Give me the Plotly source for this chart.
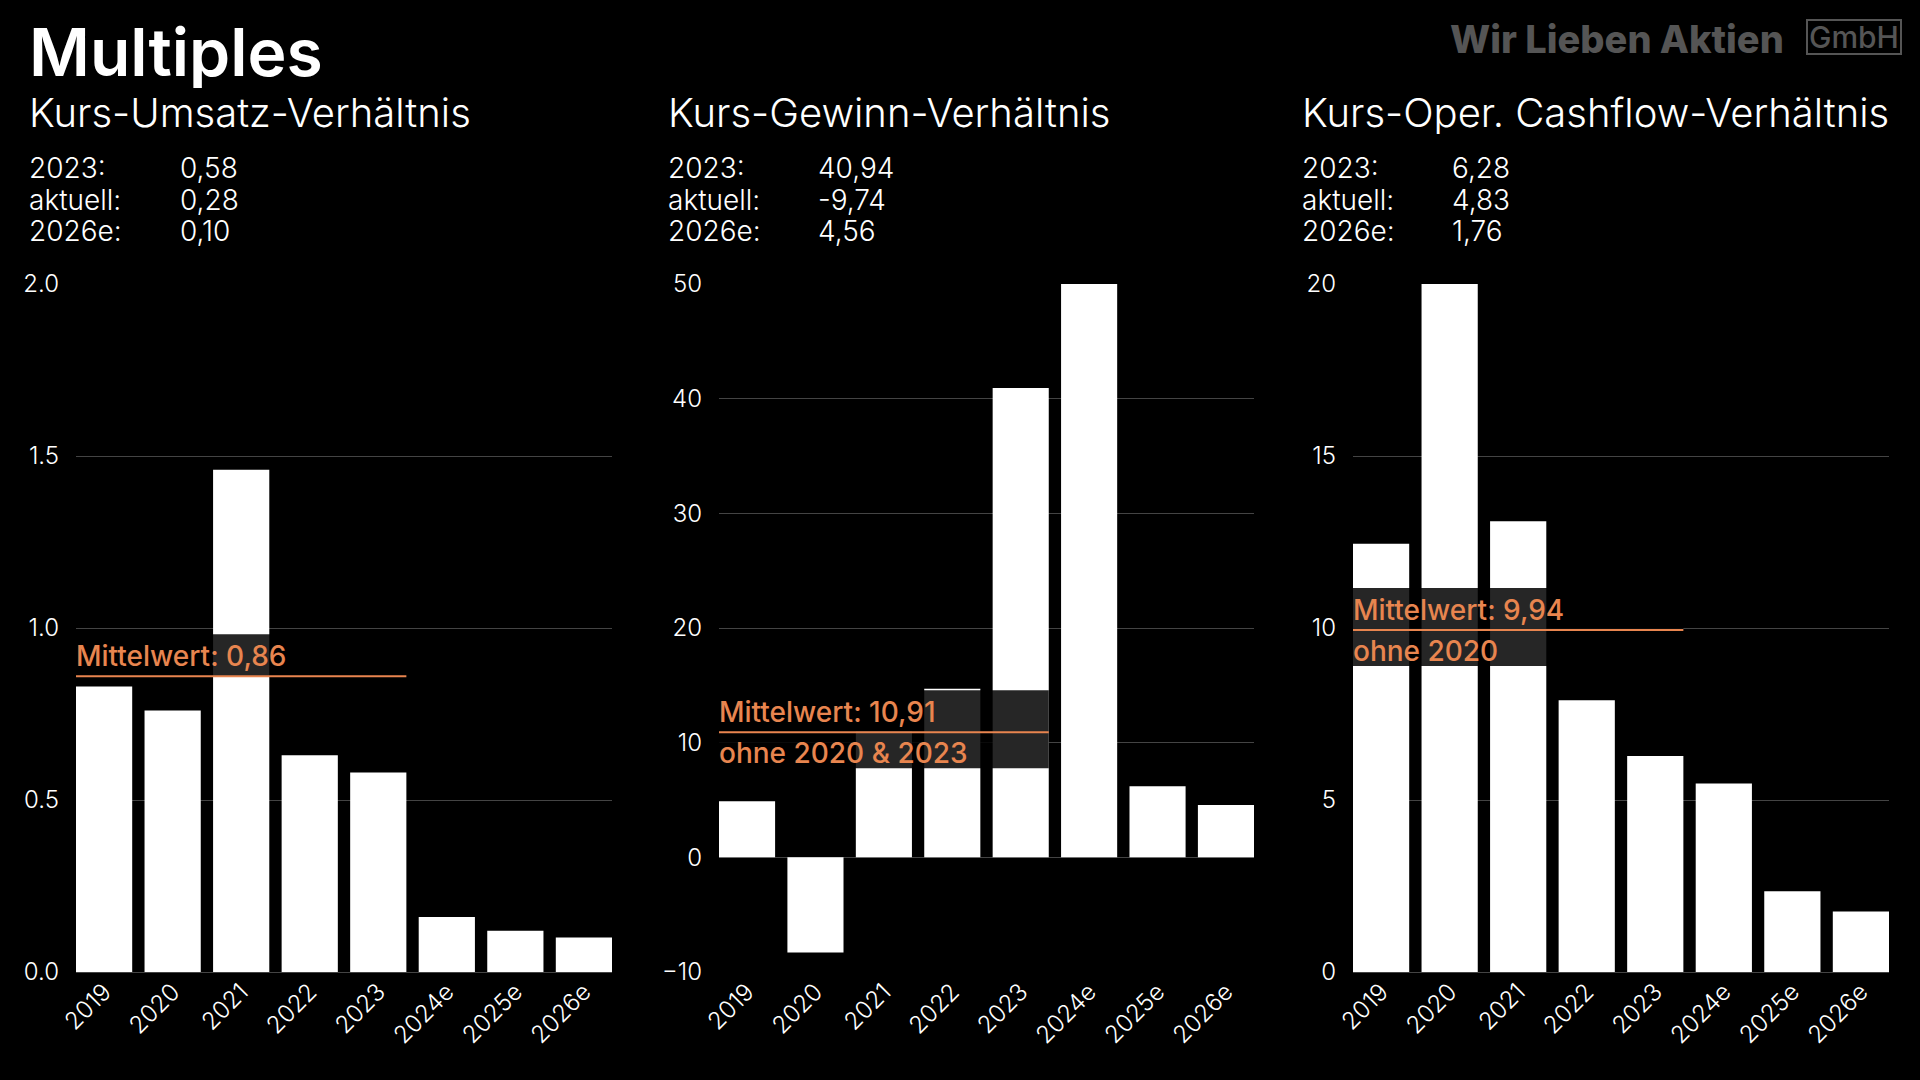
import plotly.graph_objects as go

FONT = "Inter"
ORANGE = "#E8854F"
GRID = "#444444"

years = ["2019", "2020", "2021", "2022", "2023", "2024e", "2025e", "2026e"]

kuv = [0.83, 0.76, 1.46, 0.63, 0.58, 0.16, 0.12, 0.10]
kgv = [4.9, -8.3, 11.0, 14.7, 40.94, 50.0, 6.2, 4.56]
kcv = [12.45, 20.0, 13.1, 7.9, 6.28, 5.48, 2.35, 1.76]

titles = ["Kurs-Umsatz-Verhältnis", "Kurs-Gewinn-Verhältnis", "Kurs-Oper. Cashflow-Verhältnis"]
stat_labels = ["2023:", "aktuell:", "2026e:"]
stat_values = [["0,58", "0,28", "0,10"], ["40,94", "-9,74", "4,56"], ["6,28", "4,83", "1,76"]]

means = [0.86, 10.91, 9.94]
mean_labels = ["Mittelwert: 0,86", "Mittelwert: 10,91", "Mittelwert: 9,94"]
mean_notes = [None, "ohne 2020 & 2023", "ohne 2020"]

y_ranges = [[0, 2], [-10, 50], [0, 20]]
y_dticks = [0.5, 10, 5]
y_formats = [".1f", "d", "d"]

W, H = 1920, 1080
x_domains = [[76 / W, 612 / W], [719 / W, 1254 / W], [1353 / W, 1889 / W]]
y_domain = [1 - 972 / H, 1 - 284 / H]
text_left = [27, 666, 1300]
value_left = [178, 816, 1450]

fig = go.Figure()
annotations = []
shapes = []

for i, vals in enumerate([kuv, kgv, kcv]):
    n = "" if i == 0 else str(i + 1)
    fig.add_trace(go.Bar(x=years, y=vals, marker=dict(color="white", line=dict(width=0)),
                         xaxis="x" + n, yaxis="y" + n, showlegend=False, hoverinfo="x+y"))
    fig.update_layout(**{
        "xaxis" + n: dict(domain=x_domains[i], anchor="y" + n, range=[-0.41, 7.41],
                          tickangle=-45, tickfont=dict(size=24, color="white", weight=300),
                          showgrid=False, zeroline=False, showline=False, ticks="",
                          automargin=False, fixedrange=True),
        "yaxis" + n: dict(domain=y_domain, anchor="x" + n, range=y_ranges[i], dtick=y_dticks[i],
                          tickformat=y_formats[i], tickfont=dict(size=24, color="white", weight=300),
                          gridcolor=GRID, gridwidth=1, zeroline=True, zerolinecolor=GRID,
                          zerolinewidth=1, showline=False, ticks="", ticklabelstandoff=16,
                          automargin=False, fixedrange=True),
    })
    xr, yr = "x" + n, "y" + n
    above = 42
    below = 36 if mean_notes[i] else 0
    shapes.append(dict(type="rect", xref=xr, yref=yr, x0=-0.41, x1=4.41,
                       ysizemode="pixel", yanchor=means[i], y0=-below, y1=above,
                       fillcolor="rgba(0,0,0,0.85)", line=dict(width=0), layer="above"))
    shapes.append(dict(type="line", xref=xr, yref=yr, x0=-0.41, x1=4.41, y0=means[i], y1=means[i],
                       line=dict(color=ORANGE, width=2), layer="above"))
    annotations.append(dict(xref=xr, yref=yr, x=-0.41, y=means[i], xanchor="left", yanchor="bottom",
                            text=mean_labels[i], showarrow=False, yshift=1, xshift=-2,
                            font=dict(family=FONT, size=28, color=ORANGE, weight=500)))
    if mean_notes[i]:
        annotations.append(dict(xref=xr, yref=yr, x=-0.41, y=means[i], xanchor="left", yanchor="top",
                                text=mean_notes[i], showarrow=False, yshift=-2, xshift=-2,
                                font=dict(family=FONT, size=28, color=ORANGE, weight=500)))
    # panel title and stats
    annotations.append(dict(xref="paper", yref="paper", x=text_left[i] / W, y=1 - 112 / H,
                            xanchor="left", yanchor="middle", text=titles[i], showarrow=False,
                            height=44,
                            font=dict(family=FONT, size=40, color="white", weight=300)))
    for j, (lab, val) in enumerate(zip(stat_labels, stat_values[i])):
        yy = 1 - (168 + 31.5 * j) / H
        annotations.append(dict(xref="paper", yref="paper", x=text_left[i] / W, y=yy,
                                xanchor="left", yanchor="middle", text=lab, showarrow=False,
                                height=30,
                                font=dict(family=FONT, size=28, color="white", weight=300)))
        annotations.append(dict(xref="paper", yref="paper", x=value_left[i] / W, y=yy,
                                xanchor="left", yanchor="middle", text=val, showarrow=False,
                                height=30,
                                font=dict(family=FONT, size=28, color="white", weight=300)))

annotations.append(dict(xref="paper", yref="paper", x=27 / W, y=1 - 52 / H, xanchor="left",
                        yanchor="middle", text="Multiples", showarrow=False, height=72,
                        font=dict(family=FONT, size=66, color="white", weight=600)))
annotations.append(dict(xref="paper", yref="paper", x=1786 / W, y=1 - 39 / H, xanchor="right",
                        yanchor="middle", text="Wir Lieben Aktien", showarrow=False,
                        font=dict(family=FONT, size=38, color="#555555", weight=800)))
annotations.append(dict(xref="paper", yref="paper", x=1902 / W, y=1 - 37 / H, xanchor="right",
                        yanchor="middle", text="GmbH", showarrow=False, borderpad=1,
                        bordercolor="#555555", borderwidth=2, height=30,
                        font=dict(family=FONT, size=30, color="#555555", weight=500)))

fig.update_layout(width=W, height=H, margin=dict(l=0, r=0, t=0, b=0, autoexpand=False),
                  paper_bgcolor="black", plot_bgcolor="black", bargap=0.18,
                  font=dict(family=FONT, color="white"),
                  annotations=annotations, shapes=shapes)

fig.write_html("out.html", config={"displayModeBar": False}, post_script=(
    "document.body.style.margin='0';"
    "document.body.style.background='black';"
    "document.body.style.overflow='hidden';"
))
